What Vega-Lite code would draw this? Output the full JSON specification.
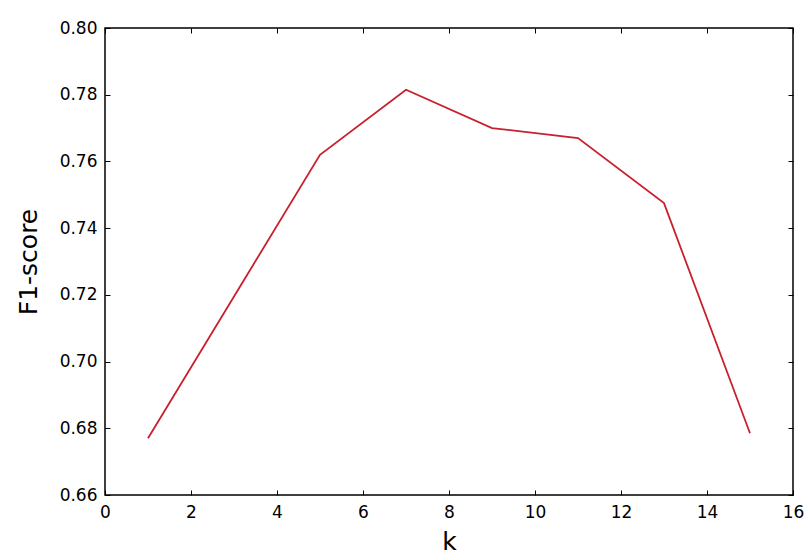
{
  "$schema": "https://vega.github.io/schema/vega-lite/v6.json",
  "width": 688,
  "height": 467,
  "autosize": "none",
  "padding": {"left": 105, "top": 28, "right": 12, "bottom": 62},
  "background": "white",
  "config": {
    "view": {"stroke": "black", "strokeWidth": 1.5},
    "font": "DejaVu Sans",
    "axis": {
      "grid": false,
      "domain": false,
      "tickSize": -5,
      "tickColor": "black",
      "tickWidth": 1,
      "labelFont": "DejaVu Sans",
      "labelFontSize": 17,
      "labelColor": "black",
      "titleFont": "DejaVu Sans",
      "titleFontSize": 25,
      "titleFontWeight": "normal",
      "titleColor": "black"
    }
  },
  "data": {
    "values": [
      {"k": 1, "f1": 0.677},
      {"k": 3, "f1": 0.7195},
      {"k": 5, "f1": 0.762},
      {"k": 7, "f1": 0.7815},
      {"k": 9, "f1": 0.770},
      {"k": 11, "f1": 0.767},
      {"k": 13, "f1": 0.7475},
      {"k": 15, "f1": 0.6785}
    ]
  },
  "layer": [
    {
      "mark": {"type": "line", "color": "#c8202e", "strokeWidth": 1.8},
      "encoding": {
        "x": {
          "field": "k", "type": "quantitative",
          "scale": {"domain": [0, 16], "nice": false, "zero": false},
          "axis": {"values": [0, 2, 4, 6, 8, 10, 12, 14, 16], "title": "k", "labelPadding": 14, "titlePadding": 9, "labelFlush": false, "format": "d"}
        },
        "y": {
          "field": "f1", "type": "quantitative",
          "scale": {"domain": [0.66, 0.8], "nice": false, "zero": false},
          "axis": {"values": [0.66, 0.68, 0.7, 0.72, 0.74, 0.76, 0.78, 0.8], "format": ".2f", "title": "F1-score", "labelPadding": 13, "titlePadding": 18, "labelFlush": false}
        }
      }
    },
    {
      "mark": {"type": "line", "opacity": 0},
      "encoding": {
        "x": {
          "field": "k", "type": "quantitative",
          "scale": {"domain": [0, 16], "nice": false, "zero": false},
          "axis": {"orient": "top", "values": [0, 2, 4, 6, 8, 10, 12, 14, 16], "labels": false, "title": null}
        },
        "y": {
          "field": "f1", "type": "quantitative",
          "scale": {"domain": [0.66, 0.8], "nice": false, "zero": false},
          "axis": {"orient": "right", "values": [0.66, 0.68, 0.7, 0.72, 0.74, 0.76, 0.78, 0.8], "labels": false, "title": null}
        }
      }
    }
  ],
  "resolve": {"scale": {"x": "independent", "y": "independent"}, "axis": {"x": "independent", "y": "independent"}}
}
